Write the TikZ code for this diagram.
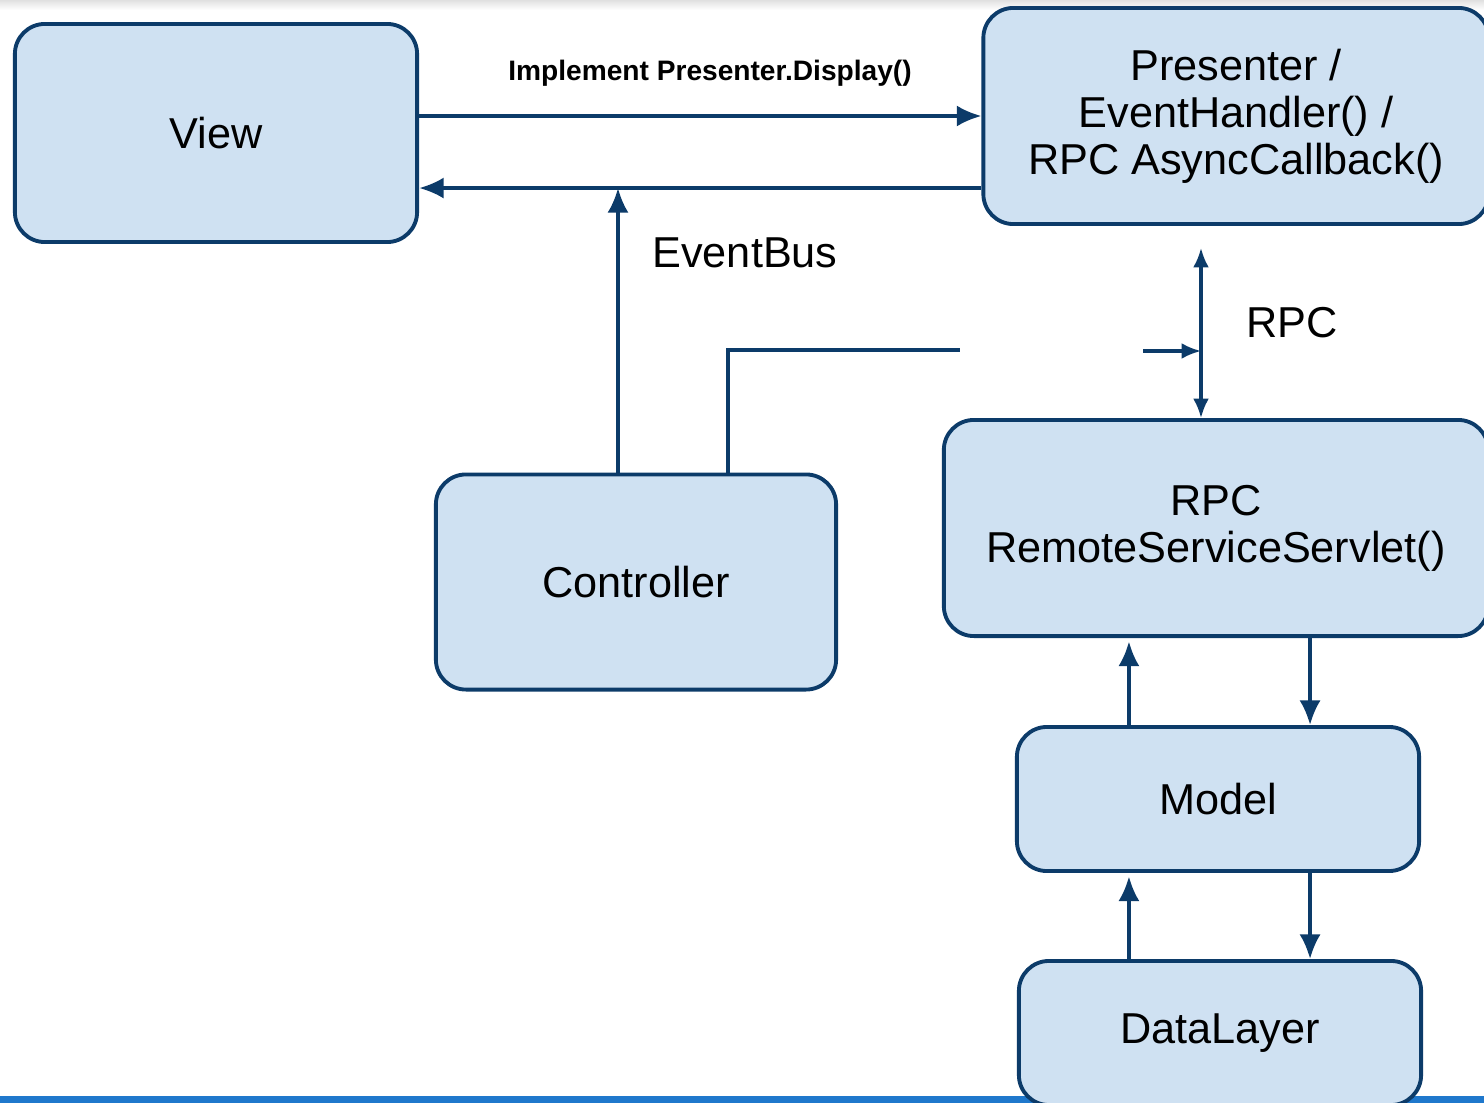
\documentclass[tikz,border=0pt]{standalone}
\usepackage{fontspec}
\setmainfont{Liberation Sans}
\usetikzlibrary{arrows.meta}
\definecolor{boxfill}{RGB}{207,225,242}
\definecolor{boxline}{RGB}{12,59,105}
\definecolor{barblue}{RGB}{31,120,204}

\begin{document}
\begin{tikzpicture}[x=0.01cm,y=-0.01cm,
    block/.style={draw=boxline,fill=boxfill,line width=1.1pt,rounded corners=0.3cm,
      inner sep=0pt,align=center,font=\fontsize{12.3}{13.4}\selectfont},
    conn/.style={draw=boxline,line width=1pt,-{Latex[length=7pt,width=6pt]}},
    smallconn/.style={draw=boxline,line width=0.9pt,-{Latex[length=5.5pt,width=4.5pt]}},
    link/.style={draw=boxline,line width=1pt},
    lbl/.style={font=\fontsize{12.3}{13.4}\selectfont}]
                % Frame
                \useasboundingbox (0,0) rectangle (1484,1103);
                \clip (0,0) rectangle (1484,1103);
                \shade[top color=black!12,bottom color=white] (0,0) rectangle (1484,10);
                \fill[barblue] (0,1096) rectangle (1484,1103);

                % Boxes
                \node[block,minimum width=4.02cm,minimum height=2.18cm] (view) at (216,133) {View};
                \node[block,minimum width=5.05cm,minimum height=2.16cm] (presenter) at (1236,116)
                  {Presenter /\\EventHandler() /\\RPC AsyncCallback()};
                \node[block,minimum width=4cm,minimum height=2.15cm] (controller) at (636,582) {Controller};
                \node[block,minimum width=5.44cm,minimum height=2.16cm] (rpc) at (1216,528)
                  {RPC\\RemoteServiceServlet()};
                \node[block,minimum width=4.02cm,minimum height=1.44cm] (model) at (1218,799) {Model};
                \node[block,minimum width=4.02cm,minimum height=1.44cm] (data) at (1220,1033) {DataLayer};

                % View <-> Presenter
                \draw[conn] (view.east |- presenter.west) -- (presenter.west);
                \node[font=\fontsize{8}{9}\selectfont\bfseries] (display) at (710,73) {Implement Presenter.Display()};
                \coordinate (back) at ([yshift=-0.72cm]presenter.west);
                \draw[conn] (back) -- (view.east |- back);

                % EventBus
                \coordinate (busfoot) at ([xshift=-0.18cm]controller.north);
                \draw[conn] (busfoot) -- (busfoot |- back);
                \node[lbl] (buslbl) at (745,253) {EventBus};

                % Controller to RPC (broken line)
                \coordinate (ctrlout) at ([xshift=0.92cm]controller.north);
                \coordinate (gapl) at (960,350);
                \draw[link] (ctrlout) |- (gapl);
                \coordinate (rpctop) at (1201,248);
                \coordinate (gapr) at (1143,351);
                \draw[smallconn] (gapr) -- (rpctop |- gapr);

                % RPC
                \draw[smallconn,{Latex[length=5.5pt,width=4.5pt]}-{Latex[length=5.5pt,width=4.5pt]}]
                  (rpctop) -- (rpctop |- rpc.north);
                \node[lbl] (rpclbl) at (1292,323) {RPC};

                % RPC <-> Model <-> DataLayer
                \coordinate (mup) at ([xshift=-0.89cm]model.north);
                \coordinate (mdown) at ([xshift=0.92cm]model.north);
                \draw[conn,shorten >=1pt] (mup) -- (mup |- rpc.south);
                \draw[conn] (mdown |- rpc.south) -- (mdown);
                \draw[conn,shorten >=1pt] (mup |- data.north) -- (mup |- model.south);
                \draw[conn] (mdown |- model.south) -- (mdown |- data.north);
\end{tikzpicture}
\end{document}
